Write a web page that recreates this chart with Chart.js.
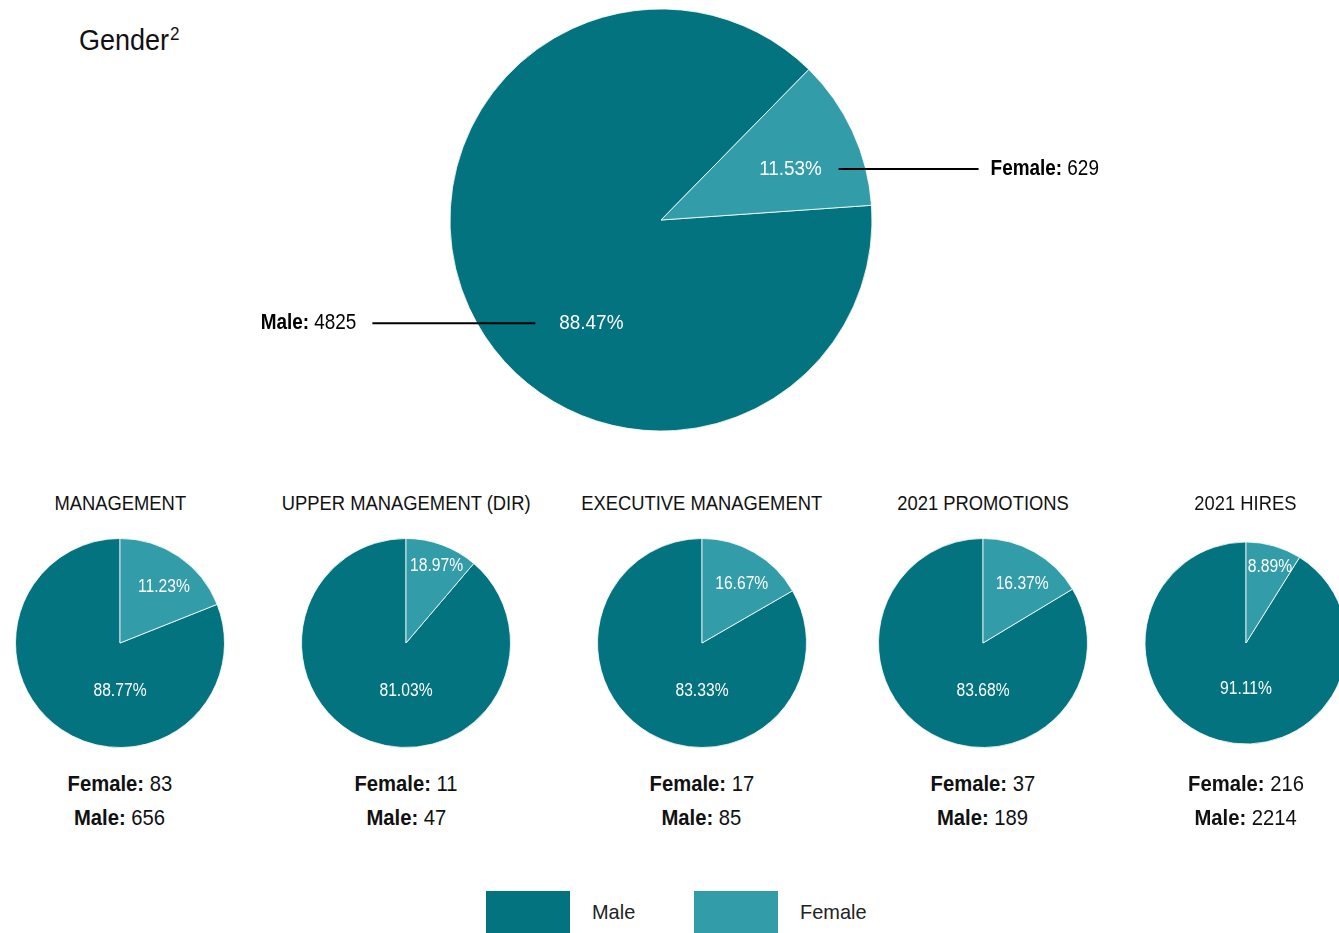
<!DOCTYPE html>
<html>
<head>
<meta charset="utf-8">
<script src="https://cdn.jsdelivr.net/npm/chart.js@4.4.1/dist/chart.umd.min.js"></script>
<style>
  html, body { margin: 0; padding: 0; overflow: hidden; background: #fff; }
  body { width: 1339px; height: 933px; position: relative;
         font-family: "Liberation Sans", Arial, sans-serif; color: #111; }
  .cond { display: inline-block; white-space: nowrap; transform-origin: 50% 50%; }
  #title { position: absolute; left: 79px; top: 22px; font-size: 30px; line-height: 36px; }
  #title .cond { transform: scaleX(0.9); transform-origin: 0 50%; }
  #title sup { font-size: 19px; vertical-align: 10px; line-height: 0; margin-left: 1px; }
  #bigChart { position: absolute; left: 0; top: 0; }
  .group { position: absolute; top: 480px; width: 300px; }
  .group h3 { margin: 0; font-weight: normal; font-size: 21px; line-height: 46px; text-align: center; }
  .group h3 .cond { transform: scaleX(0.875); }
  .group canvas { position: absolute; top: 43px; }
  .counts { position: absolute; top: 287px; width: 100%; text-align: center; font-size: 22px; line-height: 34px; }
  .counts .cond { transform: scaleX(0.92); }
  .legend { position: absolute; top: 891px; height: 42px; display: flex; align-items: center; }
  .legend span.box { display: inline-block; width: 84px; height: 42px; }
  .legend span.txt { margin-left: 22px; font-size: 21px; transform: scaleX(0.95); transform-origin: 0 50%; color: #222; }
</style>
</head>
<body>
<div id="title"><span class="cond">Gender<sup>2</sup></span></div>
<canvas id="bigChart" width="1339" height="440"></canvas>
<div id="groups"></div>
<div id="legend"></div>

<script>
'use strict';
var MALE_COLOR = '#03737F';
var FEMALE_COLOR = '#329CA9';
var FONT = '"Liberation Sans", Arial, sans-serif';

var legendLabels = ['Male', 'Female'];

// overall headcount
var totalFemale = 629;
var totalMale = 4825;
var totalFemalePct = '11.53%';
var totalMalePct = '88.47%';

// breakdowns
var groupNames = ['MANAGEMENT', 'UPPER MANAGEMENT (DIR)', 'EXECUTIVE MANAGEMENT', '2021 PROMOTIONS', '2021 HIRES'];
var femaleCounts = [83, 11, 17, 37, 216];
var maleCounts = [656, 47, 85, 189, 2214];
var femalePctLabels = ['11.23%', '18.97%', '16.67%', '16.37%', '8.89%'];
var malePctLabels = ['88.77%', '81.03%', '83.33%', '83.68%', '91.11%'];
// female slice size as drawn in the source (management / upper management slices are swapped there)
var femaleSliceDrawn = [18.97, 11.23, 16.67, 16.37, 8.89];

var groupCenters = [120, 406, 701.5, 983, 1245.5];
var groupRadius = [104.5, 104.5, 104.5, 104.5, 101];

// draw horizontally condensed text, returns drawn width
function condText(ctx, text, x, y, font, sx, align) {
    ctx.save();
    ctx.font = font;
    var w = ctx.measureText(text).width * sx;
    var left = align === 'center' ? x - w / 2 : (align === 'right' ? x - w : x);
    ctx.translate(left, y);
    ctx.scale(sx, 1);
    ctx.textAlign = 'left';
    ctx.fillText(text, 0, 0);
    ctx.restore();
    return w;
}

function textWidth(ctx, text, font, sx) {
    ctx.save();
    ctx.font = font;
    var w = ctx.measureText(text).width * sx;
    ctx.restore();
    return w;
}

var pieLabels = {
    id: 'pieLabels',
    afterDatasetsDraw: function (chart, args, opts) {
        var ctx = chart.ctx;
        var arcs = chart.getDatasetMeta(0).data;
        ctx.save();
        ctx.textBaseline = 'middle';
        arcs.forEach(function (arc, i) {
            var p = arc.getProps(['x', 'y', 'startAngle', 'endAngle', 'outerRadius'], true);
            var ang, frac;
            var anchor = opts.anchors[i];
            if (anchor) {
                ang = anchor[0] * Math.PI / 180 - Math.PI / 2;
                frac = anchor[1];
            } else {
                var share = (p.endAngle - p.startAngle) / (2 * Math.PI);
                var big = share > 0.15;
                ang = (p.startAngle + p.endAngle) / 2 + (big ? 4 : 1.5) * Math.PI / 180;
                frac = big ? 0.68 : 0.79;
            }
            var tx = p.x + Math.cos(ang) * p.outerRadius * frac;
            var ty = p.y + Math.sin(ang) * p.outerRadius * frac;
            ctx.fillStyle = '#fff';
            condText(ctx, opts.texts[i], tx, ty, opts.font, opts.scaleX, 'center');

            var c = opts.callouts && opts.callouts[i];
            if (!c) return;
            var dir = c.side === 'right' ? 1 : -1;
            var x0 = tx + dir * c.gap;
            var x1 = x0 + dir * c.length;
            ctx.strokeStyle = '#000';
            ctx.lineWidth = 2;
            ctx.beginPath();
            ctx.moveTo(x0, ty);
            ctx.lineTo(x1, ty);
            ctx.stroke();
            ctx.fillStyle = '#000';
            var name = c.name + ': ';
            var boldFont = 'bold ' + opts.calloutFont;
            var wName = textWidth(ctx, name, boldFont, c.scaleX);
            var wVal = textWidth(ctx, String(c.value), opts.calloutFont, c.scaleX);
            var start = dir > 0 ? x1 + 12 : x1 - 16 - wName - wVal;
            condText(ctx, name, start, ty, boldFont, c.scaleX, 'left');
            condText(ctx, String(c.value), start + wName, ty, opts.calloutFont, c.scaleX, 'left');
        });
        ctx.restore();
    }
};

function pieConfig(values, radius, rotation, labelOpts, padding) {
    return {
        type: 'pie',
        data: {
            labels: legendLabels,
            datasets: [{
                data: values,
                backgroundColor: [MALE_COLOR, FEMALE_COLOR],
                borderColor: '#fff',
                borderWidth: 0.8
            }]
        },
        options: {
            responsive: false,
            animation: false,
            rotation: rotation,
            radius: radius,
            layout: { padding: padding || 0 },
            plugins: {
                legend: { display: false },
                tooltip: { enabled: false },
                pieLabels: labelOpts
            }
        },
        plugins: [pieLabels]
    };
}

// big overall pie
new Chart(document.getElementById('bigChart').getContext('2d'), pieConfig(
    [totalMale, totalFemale],
    211,
    86,
    {
        texts: [totalMalePct, totalFemalePct],
        font: '21px ' + FONT,
        scaleX: 0.9,
        calloutFont: '22px ' + FONT,
        anchors: [[214, 0.59], [68.5, 0.66]],
        callouts: [
            { side: 'left', gap: 56, length: 163, name: 'Male', value: totalMale, scaleX: 0.86 },
            { side: 'right', gap: 48, length: 140, name: 'Female', value: totalFemale, scaleX: 0.86 }
        ]
    },
    { left: 0, right: 1339 - 2 * 661, top: 0, bottom: 0 }
));

// small breakdown pies
var holder = document.getElementById('groups');
groupNames.forEach(function (name, i) {
    var div = document.createElement('div');
    div.className = 'group';
    div.style.left = (groupCenters[i] - 150) + 'px';
    div.innerHTML = '<h3><span class="cond">' + name + '</span></h3>' +
        '<canvas width="240" height="240" style="left:30px"></canvas>' +
        '<div class="counts"><span class="cond"><b>Female:</b> ' + femaleCounts[i] +
        '</span><br><span class="cond"><b>Male:</b> ' + maleCounts[i] + '</span></div>';
    holder.appendChild(div);
    var f = femaleSliceDrawn[i];
    new Chart(div.querySelector('canvas').getContext('2d'), pieConfig(
        [100 - f, f],
        groupRadius[i],
        f * 3.6,
        {
            texts: [malePctLabels[i], femalePctLabels[i]],
            font: '18px ' + FONT,
            scaleX: 0.87,
            anchors: [[180, 0.46], null]
        }
    ));
});

// legend
var legendColors = [MALE_COLOR, FEMALE_COLOR];
var legendLefts = [486, 694];
var legendHolder = document.getElementById('legend');
legendLabels.forEach(function (label, i) {
    var item = document.createElement('div');
    item.className = 'legend';
    item.style.left = legendLefts[i] + 'px';
    item.innerHTML = '<span class="box" style="background:' + legendColors[i] + '"></span>' +
        '<span class="txt">' + label + '</span>';
    legendHolder.appendChild(item);
});
</script>
</body>
</html>
